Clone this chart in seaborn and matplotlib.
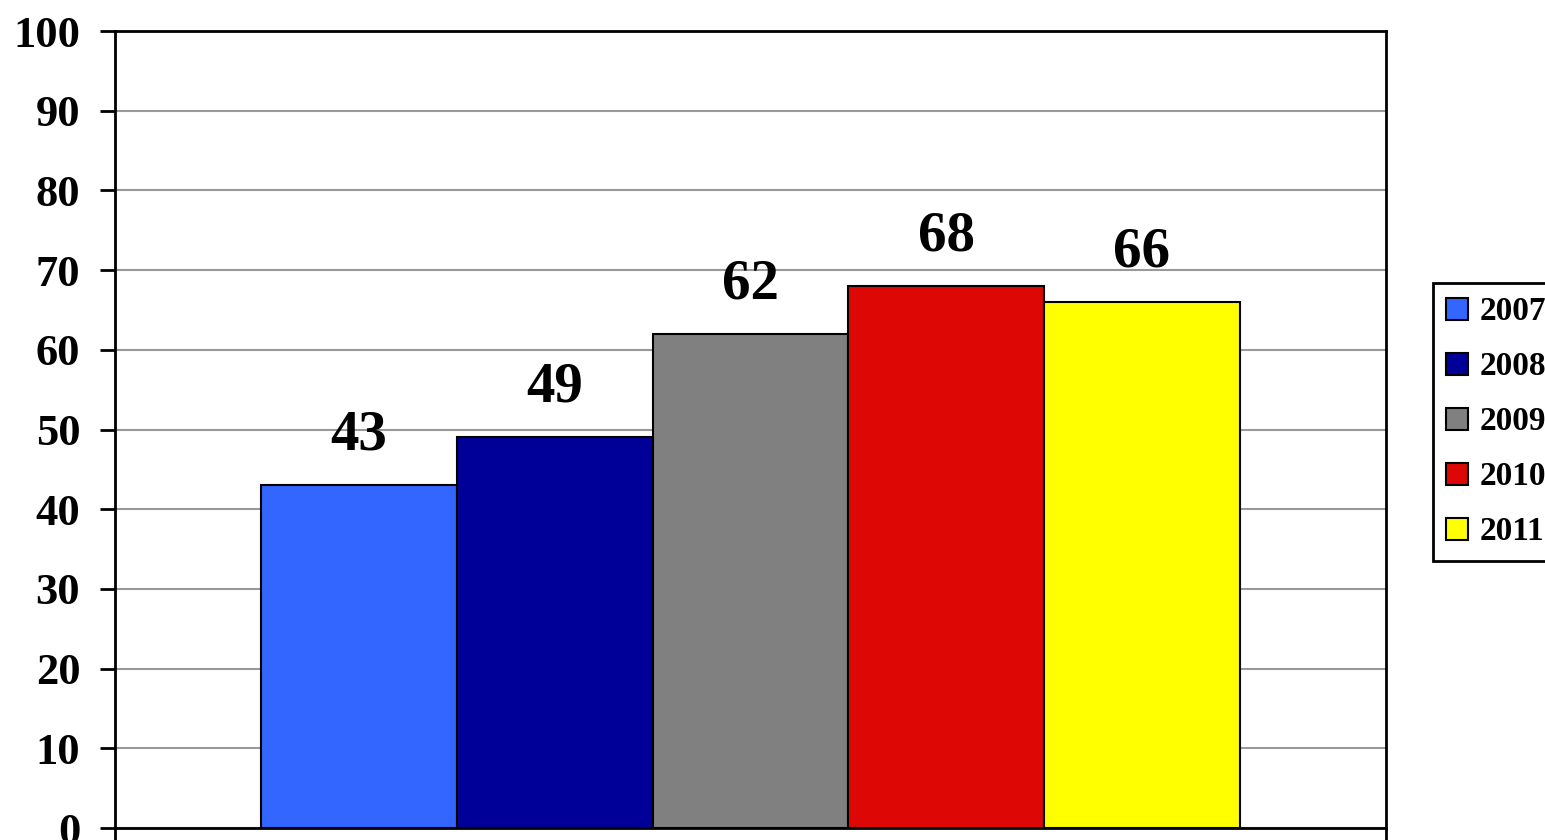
import matplotlib
matplotlib.use("Agg")
import matplotlib.pyplot as plt
import pandas as pd
import seaborn as sns

years = ["2007", "2008", "2009", "2010", "2011"]
values = [43, 49, 62, 68, 66]
colors = ["#3366FF", "#000099", "#808080", "#DD0806", "#FFFF00"]
y_ticks = [0, 10, 20, 30, 40, 50, 60, 70, 80, 90, 100]

sns.set_style("white")
plt.rcParams["font.family"] = ["Liberation Serif", "DejaVu Serif"]
plt.rcParams["font.weight"] = "bold"
plt.rcParams["text.color"] = "black"
plt.rcParams["xtick.color"] = "black"
plt.rcParams["ytick.color"] = "black"

df = pd.DataFrame({"group": [""] * len(years), "year": years, "value": values})

fig = plt.figure(figsize=(15.45, 8.4), dpi=100)
ax = fig.add_axes([115 / 1545, 12 / 840, (1386 - 115) / 1545, (828 - 31) / 840])

sns.barplot(
    data=df, x="group", y="value", hue="year", hue_order=years,
    palette=colors, width=0.77, gap=0, edgecolor="black", linewidth=1.5,
    saturation=1, ax=ax, legend=True,
)

ax.set_xlim(-0.5, 0.5)
ax.set_ylim(0, 100)
ax.set_yticks(y_ticks)
ax.set_yticklabels([str(t) for t in y_ticks], fontsize=32, fontweight="bold", color="black")
ax.set_xticks([-0.5, 0.5])
ax.set_xticklabels(["", ""])
ax.tick_params(axis="y", direction="out", length=11, width=2, pad=14, color="black", left=True)
ax.tick_params(axis="x", direction="out", length=11, width=2, color="black", bottom=True)
ax.set_xlabel("")
ax.set_ylabel("")
ax.yaxis.grid(True, color="#999999", linewidth=1.5)
ax.set_axisbelow(True)
for side in ["left", "right", "top", "bottom"]:
    ax.spines[side].set_visible(True)
    ax.spines[side].set_color("black")
    ax.spines[side].set_linewidth(2)

for container in ax.containers:
    for bar in container:
        h = bar.get_height()
        ax.annotate(
            f"{h:.0f}", (bar.get_x() + bar.get_width() / 2, h),
            xytext=(0, 17), textcoords="offset points",
            ha="center", va="bottom", fontsize=41, fontweight="bold", color="black",
        )

handles, labels = ax.get_legend_handles_labels()
ax.legend_.remove()
leg = fig.legend(
    handles, labels, loc="upper left", bbox_to_anchor=(1433 / 1545, 1 - 283 / 840),
    frameon=True, fancybox=False, edgecolor="black", framealpha=1,
    handlelength=0.65, handleheight=0.65, handletextpad=0.35,
    labelspacing=0.72, borderpad=0.4, borderaxespad=0,
    prop={"weight": "bold", "size": 24, "family": "Liberation Serif"},
)
leg.get_frame().set_linewidth(2)
for t in leg.get_texts():
    t.set_color("black")

fig.savefig("out.png", dpi=100)
plt.close(fig)
